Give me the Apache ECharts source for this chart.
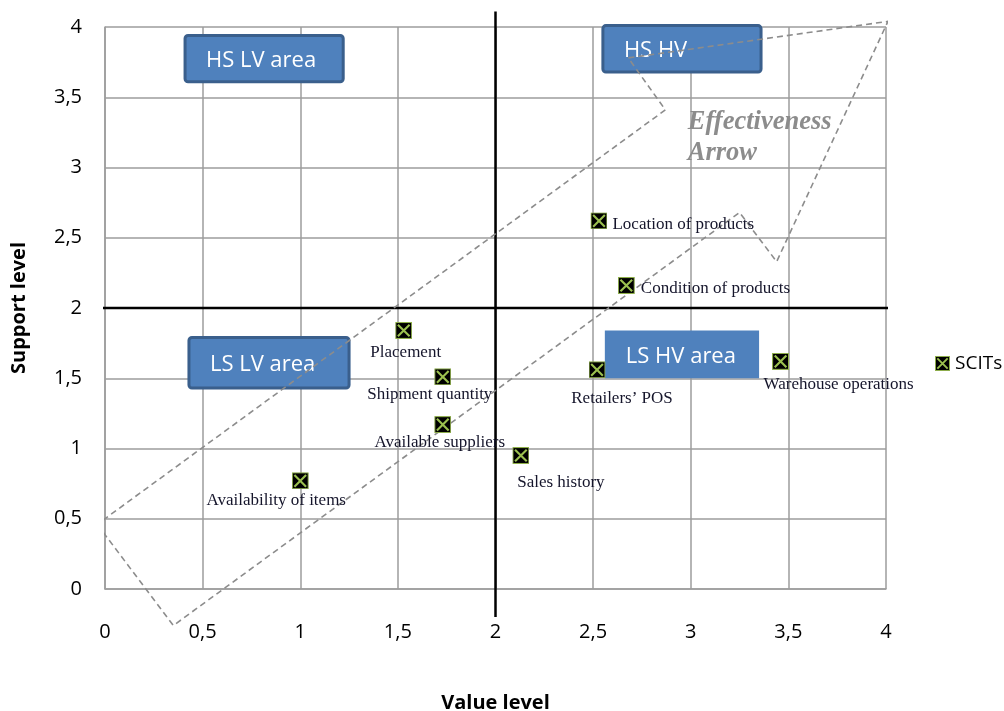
<!DOCTYPE html>
<html>
<head>
<meta charset="utf-8">
<script src="https://cdn.jsdelivr.net/npm/echarts@6/dist/echarts.min.js"></script>
<style>html,body{margin:0;padding:0;background:#fff}#c{width:1004px;height:711px}</style>
</head>
<body>
<div id="c"></div>
<script>
// ---- data ----
var pointNames = ["Location of products","Condition of products","Placement","Shipment quantity","Available suppliers","Sales history","Retailers’ POS","Warehouse operations","Availability of items"];
var valueLevel = [2.53, 2.67, 1.53, 1.73, 1.73, 2.13, 2.52, 3.46, 1.00];
var supportLevel = [2.62, 2.16, 1.84, 1.51, 1.17, 0.95, 1.56, 1.62, 0.77];
var tickValues = [0, 0.5, 1, 1.5, 2, 2.5, 3, 3.5, 4];
var seriesName = "SCITs";
// area boxes: [x1, y1, x2, y2] in data units, label
var boxNames = ["HS LV area", "HS HV", "LS LV area", "LS HV area"];
var boxX1 = [0.41, 2.55, 0.43, 2.56];
var boxY1 = [3.94, 4.01, 1.79, 1.84];
var boxX2 = [1.22, 3.36, 1.25, 3.35];
var boxY2 = [3.61, 3.68, 1.43, 1.50];
var boxBorder = [true, true, true, false];
// effectiveness arrow outline (data units)
var arrowX = [-0.04, 0.35, 3.25, 3.44, 4.01, 2.68, 2.87, -0.04];
var arrowY = [0.46, -0.26, 2.68, 2.33, 4.04, 3.78, 3.41, 0.46];
var arrowText = ["Effectiveness", "Arrow"];
var arrowTextPos = [[2.985, 3.32], [2.985, 3.105]];
// quadrant dividers
var midValue = 2, midSupport = 2;

// label placements (style only)
var labelCfg = [
  {position:'right', offset:[0,4]},
  {position:'right', offset:[1,3]},
  {position:'bottom', offset:[2,0]},
  {position:'bottom', offset:[-13,-4]},
  {position:'bottom', offset:[-3,-4]},
  {position:'bottom', offset:[40,5]},
  {position:'bottom', offset:[25,7]},
  {position:'bottom', offset:[58,1]},
  {position:'bottom', offset:[-24,-2]}
];

var svg = '<svg xmlns="http://www.w3.org/2000/svg" width="16" height="16" viewBox="0 0 16 16">' +
  '<rect x="0.5" y="0.5" width="15" height="15" fill="#000" stroke="#8fb04a" stroke-width="1"/>' +
  '<path d="M2.5 2.5L13.5 13.5M13.5 2.5L2.5 13.5" stroke="#9bc04f" stroke-width="2"/></svg>';
var icon = 'image://data:image/svg+xml;charset=utf-8,' + encodeURIComponent(svg);

var fmt = function(v){ return String(v).replace('.', ','); };

var pts = pointNames.map(function(n, i){
  return {name: n, value: [valueLevel[i], supportLevel[i]],
    label: {show: true, position: labelCfg[i].position, offset: labelCfg[i].offset, formatter: n}};
});

var boxData = boxNames.map(function(n, i){ return [boxX1[i], boxY1[i], boxX2[i], boxY2[i], i]; });

var chart = echarts.init(document.getElementById('c'));
chart.setOption({
  animation: false,
  grid: {left: 105, right: 118, top: 27, bottom: 122, containLabel: false, outerBoundsMode: 'none'},
  legend: {
    data: [{name: seriesName, icon: icon}],
    left: 930, top: 349, itemWidth: 15, itemHeight: 15, itemGap: 4,
    textStyle: {fontFamily: 'Open Sans', fontSize: 19, color: '#000'}
  },
  xAxis: {
    type: 'value', min: 0, max: 4, interval: 0.5,
    name: 'Value level', nameLocation: 'middle', nameGap: 104,
    nameTextStyle: {fontFamily: 'Open Sans', fontWeight: 'bold', fontSize: 20, color: '#000'},
    axisLine: {show: true, lineStyle: {color: '#9d9d9d', width: 1.5}},
    axisTick: {show: false},
    axisLabel: {formatter: fmt, margin: 33, fontFamily: 'Open Sans', fontSize: 20, color: '#000'},
    splitLine: {show: true, lineStyle: {color: '#9d9d9d', width: 1.5}}
  },
  yAxis: {
    type: 'value', min: 0, max: 4, interval: 0.5,
    name: 'Support level', nameLocation: 'middle', nameGap: 76,
    nameTextStyle: {fontFamily: 'Open Sans', fontWeight: 'bold', fontSize: 20, color: '#000'},
    axisLine: {show: true, lineStyle: {color: '#9d9d9d', width: 1.5}},
    axisTick: {show: false},
    axisLabel: {formatter: fmt, margin: 23, fontFamily: 'Open Sans', fontSize: 20, color: '#000'},
    splitLine: {show: true, lineStyle: {color: '#9d9d9d', width: 1.5}}
  },
  series: [
    {
      type: 'line', name: 'vdiv', clip: false, symbol: 'none', silent: true, z: 3,
      lineStyle: {color: '#000', width: 2.5},
      data: [[midValue, -0.2], [midValue, 4.11]]
    },
    {
      type: 'line', name: 'hdiv', clip: false, symbol: 'none', silent: true, z: 3,
      lineStyle: {color: '#000', width: 2.5},
      data: [[-0.03, midSupport], [4.03, midSupport]]
    },
    {
      type: 'custom', name: 'boxes', clip: false, silent: true, z: 4,
      data: boxData,
      renderItem: function(params, api){
        var i = api.value(4);
        var p1 = api.coord([api.value(0), api.value(1)]);
        var p2 = api.coord([api.value(2), api.value(3)]);
        var w = p2[0] - p1[0], h = p2[1] - p1[1];
        var bd = boxBorder[i];
        return {
          type: 'group',
          children: [
            {type: 'rect', shape: {x: p1[0], y: p1[1], width: w, height: h, r: bd ? 3 : 0},
             style: {fill: '#4f81bd', stroke: bd ? '#3a5f8c' : null, lineWidth: bd ? 3 : 0}},
            {type: 'text', style: {text: boxNames[i], x: p1[0] + 21, y: p1[1] + h / 2 + 2,
              textVerticalAlign: 'middle', verticalAlign: 'middle', fill: '#fff',
              font: '22px "Open Sans"'}}
          ]
        };
      }
    },
    {
      type: 'custom', name: 'arrowText', clip: false, silent: true, z: 4,
      data: arrowTextPos.map(function(p, i){ return [p[0], p[1], i]; }),
      renderItem: function(params, api){
        var p = api.coord([api.value(0), api.value(1)]);
        return {type: 'text', style: {text: arrowText[api.value(2)], x: p[0], y: p[1],
          verticalAlign: 'middle', textVerticalAlign: 'middle', fill: '#8c8c8c',
          font: 'italic bold 26.5px "Liberation Serif"'}};
      }
    },
    {
      type: 'line', name: 'arrow', clip: false, symbol: 'none', silent: true, z: 5,
      lineStyle: {color: '#8c8c8c', width: 1.6, type: [6, 4]},
      data: arrowX.map(function(x, i){ return [x, arrowY[i]]; })
    },
    {
      type: 'scatter', name: seriesName, symbol: icon, symbolSize: 17, z: 6,
      itemStyle: {opacity: 1},
      label: {show: true, fontFamily: 'Liberation Serif', fontSize: 17, color: '#15152b', distance: 5},
      data: pts
    }
  ]
});
</script>
</body>
</html>
